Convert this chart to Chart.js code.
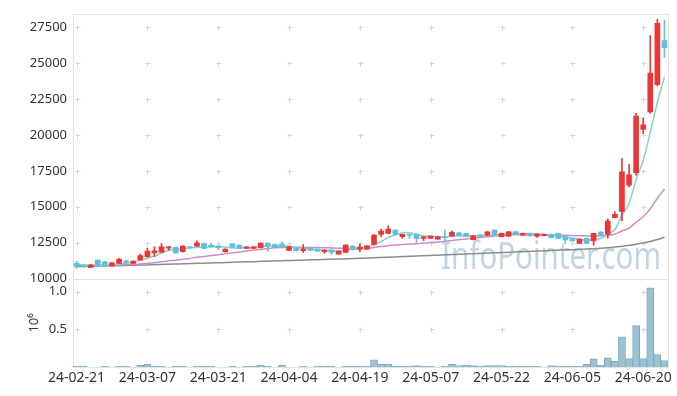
<!DOCTYPE html>
<html>
<head>
<meta charset="utf-8">
<script src="https://cdn.jsdelivr.net/npm/chart.js@4/dist/chart.umd.min.js"></script>
<style>
html, body { margin: 0; padding: 0; background: #fff; }
#wrap { width: 677px; height: 396px; }
</style>
</head>
<body>
<div id="wrap"><canvas id="chart" width="677" height="396"></canvas></div>
<script>
// trading days 24-02-21 .. 24-06-25
const dates = [
    "24-02-21","24-02-22","24-02-23","24-02-26","24-02-27","24-02-28","24-02-29",
    "24-03-04","24-03-05","24-03-06","24-03-07","24-03-08","24-03-11","24-03-12","24-03-13","24-03-14","24-03-15",
    "24-03-18","24-03-19","24-03-20","24-03-21","24-03-22","24-03-25","24-03-26","24-03-27","24-03-28","24-03-29",
    "24-04-01","24-04-02","24-04-03","24-04-04","24-04-05","24-04-08","24-04-09","24-04-11","24-04-12",
    "24-04-15","24-04-16","24-04-17","24-04-18","24-04-19","24-04-22","24-04-23","24-04-24","24-04-25","24-04-26",
    "24-04-29","24-04-30","24-05-02","24-05-03","24-05-07","24-05-08","24-05-09","24-05-10","24-05-13","24-05-14",
    "24-05-16","24-05-17","24-05-20","24-05-21","24-05-22","24-05-23","24-05-24","24-05-27","24-05-28","24-05-29",
    "24-05-30","24-05-31","24-06-03","24-06-04","24-06-05","24-06-07","24-06-10","24-06-11","24-06-12","24-06-13",
    "24-06-14","24-06-17","24-06-18","24-06-19","24-06-20","24-06-21","24-06-24","24-06-25"
]

const opens = [
    11065,10900,10790,11300,11180,10880,11065,11250,11065,11300,
    11530,11800,11850,12130,12180,11875,12220,12270,12450,12340,
    12290,11875,12430,12340,12110,12110,12150,12480,12380,12430,
    11970,12150,11945,12100,12060,11875,12010,11710,11830,12270,
    12060,12060,12380,13080,13150,13380,12920,13060,13080,12800,
    12800,12750,12900,12960,13190,13150,12720,13030,13030,13380,
    12920,12960,13260,13030,13150,12960,12990,13080,13150,12920,
    12800,12450,12800,12620,13240,13080,14250,14670,16510,17380,
    20380,21600,23490,26550
]
const highs = [
    11230,10950,11000,11320,11200,11130,11410,11270,11250,11710,
    12130,12220,12450,12250,12200,12300,12250,12640,12470,12480,
    12310,12080,12450,12360,12240,12240,12500,12500,12400,12570,
    12240,12170,12380,12120,12080,12010,12030,11940,12360,12290,
    12410,12310,13060,13450,13680,13400,13100,13080,13100,12940,
    12980,12940,13380,13330,13210,13170,13020,13060,13290,13400,
    13170,13290,13330,13170,13170,13120,13100,13100,13170,12940,
    12820,12780,12820,13170,13270,14160,14670,18350,17960,21500,
    21190,26900,28030,27980
]
const lows = [
    10720,10780,10760,10860,10860,10850,11040,11100,11040,11280,
    11500,11530,11830,11990,11780,11850,12130,12250,12090,12180,
    12010,11850,12180,12090,12090,12090,12130,11920,12160,12160,
    11950,11920,11830,11950,11900,11760,11710,11690,11810,12040,
    11875,12040,12330,12920,13130,13060,12800,12800,12450,12640,
    12780,12730,12570,12940,12970,12900,12700,12900,13010,13010,
    12900,12940,13080,13010,12920,12870,12970,12830,12780,12450,
    12600,12430,12430,12340,12980,12820,14230,14040,16390,17200,
    20080,21500,23400,25380
]
const closes = [
    10850,10830,10950,10880,10880,11110,11340,11130,11230,11600,
    11920,11945,12220,12220,11800,12270,12150,12500,12110,12200,
    12150,12060,12200,12110,12220,12220,12480,12290,12180,12180,
    12220,11945,12060,11970,11920,11990,11830,11920,12340,12060,
    12200,12290,13030,13310,13450,13080,13080,13030,12800,12920,
    12960,12920,12850,13220,12990,12920,12980,12920,13260,13030,
    13150,13260,13100,13150,13030,13100,13080,12850,12800,12690,
    12620,12750,12450,13150,13000,14000,14480,17430,17220,21300,
    20700,24300,27750,26070
]

// moving averages
const ma5 = [
    11000,10950,10930,10900,10880,10930,11030,11070,11140,11280,
    11440,11570,11780,11980,12020,12090,12130,12190,12170,12250,
    12220,12200,12140,12140,12150,12160,12250,12260,12280,12270,
    12270,12160,12120,12080,12020,11980,11950,11930,12000,12030,
    12070,12160,12380,12580,12860,13030,13190,13190,13090,12980,
    12960,12930,12890,12970,12990,12980,12990,13010,13010,13020,
    13070,13120,13160,13140,13140,13130,13090,13040,12970,12900,
    12810,12740,12660,12730,12790,13070,13420,14410,15230,16890,
    18230,20190,22250,24020
]
const ma20 = [
    10945,10940,10940,10935,10930,10940,10960,10970,10985,11015,
    11065,11115,11175,11240,11285,11350,11410,11485,11545,11605,
    11670,11735,11795,11860,11925,11980,12035,12095,12145,12170,
    12185,12185,12180,12165,12170,12160,12140,12115,12125,12120,
    12120,12130,12175,12235,12295,12340,12370,12405,12435,12475,
    12510,12560,12600,12660,12715,12760,12820,12870,12915,12965,
    13010,13060,13060,13055,13035,13035,13035,13025,13025,13015,
    12995,12990,12970,12965,12965,13020,13095,13320,13520,13930,
    14310,14860,15595,16240
]
const ma60 = [
    10850,10855,10865,10875,10890,10900,10905,10920,10935,10950,
    10960,10975,10995,11010,11020,11035,11055,11070,11080,11100,
    11110,11125,11145,11160,11170,11185,11205,11220,11230,11250,
    11265,11275,11290,11310,11320,11335,11355,11370,11380,11400,
    11420,11435,11460,11480,11500,11515,11540,11560,11575,11600,
    11620,11635,11660,11680,11695,11720,11740,11755,11780,11800,
    11815,11840,11860,11875,11900,11920,11935,11960,11980,11995,
    12020,12040,12060,12090,12120,12160,12200,12260,12320,12400,
    12490,12590,12720,12880
]

const volumes = [
    12000,12000,0,0,12000,0,12000,12000,0,22000,
    38000,12000,12000,0,12000,12000,0,12000,12000,12000,
    0,0,12000,0,12000,12000,22000,12000,0,24000,
    0,0,12000,0,12000,12000,12000,0,12000,12000,
    12000,12000,95000,38000,38000,12000,12000,12000,20000,12000,
    12000,0,12000,35000,20000,22000,20000,12000,18000,20000,
    19000,12000,12000,12000,12000,12000,0,20000,12000,12000,
    12000,12000,35000,108000,25000,122000,75000,400000,112000,550000,
    112000,1050000,165000,86000
]

const priceTicks = [10000, 12500, 15000, 17500, 20000, 22500, 25000, 27500]
const volumeTicks = [500000, 1000000]

const upColor = "#ee3535"
const downColor = "#5ec0dc"

const candleColors = closes.map((c, i) => c >= opens[i] ? upColor : downColor)
const wicks = lows.map((l, i) => [l, highs[i]])
const bodies = opens.map((o, i) => [o, closes[i]])

const decor = {
    id: "decor",
    beforeDatasetsDraw(chart) {
        const ctx = chart.ctx
        const x = chart.scales.x
        const yp = chart.scales.y
        const yv = chart.scales.yv

        ctx.save()

        // watermark
        ctx.font = '39px "Noto Sans"'
        ctx.fillStyle = "rgba(172,200,218,0.75)"
        ctx.textBaseline = "alphabetic"
        const w = ctx.measureText("InfoPointer.com").width
        ctx.save()
        ctx.translate(441, 269)
        ctx.scale(220 / w, 1)
        ctx.fillText("InfoPointer.com", 0, 0)
        ctx.restore()

        // panel frames
        ctx.strokeStyle = "#e3e3e3"
        ctx.lineWidth = 1
        ctx.strokeRect(Math.round(x.left) + 0.5, Math.round(yp.top) + 0.5,
            Math.round(x.right - x.left), Math.round(yp.bottom - yp.top))
        ctx.strokeRect(Math.round(x.left) + 0.5, Math.round(yv.top) + 0.5,
            Math.round(x.right - x.left), Math.round(yv.bottom - yv.top))

        // grid crosses
        ctx.strokeStyle = "#d6d6d6"
        for (let i = 0; i < dates.length; i += 10) {
            const px = Math.round(x.getPixelForValue(i)) + 0.5
            const marks = priceTicks.slice(1).map(v => yp.getPixelForValue(v))
                .concat(volumeTicks.map(v => yv.getPixelForValue(v)))
            marks.forEach(py => {
                py = Math.round(py) + 0.5
                ctx.beginPath()
                ctx.moveTo(px - 2, py)
                ctx.lineTo(px + 3, py)
                ctx.moveTo(px, py - 2)
                ctx.lineTo(px, py + 3)
                ctx.stroke()
            })
        }

        ctx.restore()
    }
}

const tickFont = { family: "Noto Sans", size: 13 }

new Chart(document.getElementById("chart"), {
    type: "bar",
    data: {
        labels: dates,
        datasets: [
            {
                label: "wick",
                data: wicks,
                yAxisID: "y",
                backgroundColor: candleColors,
                barThickness: 1,
                grouped: false,
                order: 1
            },
            {
                label: "body",
                data: bodies,
                yAxisID: "y",
                backgroundColor: candleColors,
                barThickness: 5,
                minBarLength: 1,
                grouped: false,
                order: 0
            },
            {
                type: "line",
                label: "MA5",
                data: ma5,
                yAxisID: "y",
                borderColor: "rgb(138,208,196)",
                borderWidth: 1.5,
                pointRadius: 0,
                tension: 0.3,
                order: 2
            },
            {
                type: "line",
                label: "MA20",
                data: ma20,
                yAxisID: "y",
                borderColor: "rgb(206,140,200)",
                borderWidth: 1.5,
                pointRadius: 0,
                tension: 0.3,
                order: 3
            },
            {
                type: "line",
                label: "MA60",
                data: ma60,
                yAxisID: "y",
                borderColor: "rgb(140,140,140)",
                borderWidth: 1.5,
                pointRadius: 0,
                tension: 0.3,
                order: 4
            },
            {
                label: "volume",
                data: volumes,
                yAxisID: "yv",
                backgroundColor: "#9cc2d2",
                borderColor: "#7eaabe",
                borderWidth: 1,
                categoryPercentage: 1,
                barPercentage: 1,
                grouped: false,
                order: 5
            }
        ]
    },
    options: {
        responsive: false,
        animation: false,
        layout: {
            padding: { top: 10, right: 9, left: 0, bottom: 0 }
        },
        plugins: {
            legend: { display: false },
            tooltip: { enabled: false }
        },
        scales: {
            x: {
                type: "category",
                offset: true,
                grid: { display: false, drawTicks: false },
                border: { display: false },
                ticks: {
                    autoSkip: false,
                    maxRotation: 0,
                    padding: 3,
                    color: "#333",
                    font: { family: "Noto Sans", size: 14 },
                    callback: (v, i) => i % 10 === 0 ? dates[i] : ""
                },
                afterFit: s => { s.height = 29 }
            },
            // declared first so it lands below the price panel
            yv: {
                position: "left",
                stack: "panels",
                stackWeight: 1,
                min: 0,
                max: 1170000,
                grid: { display: false, drawTicks: false },
                border: { display: false },
                title: {
                    display: true,
                    text: "10⁶",
                    color: "#333",
                    font: tickFont,
                    padding: { top: 26, bottom: 0 }
                },
                ticks: {
                    padding: 6,
                    color: "#333",
                    font: tickFont,
                    callback: v => (v / 1000000).toFixed(1)
                },
                afterBuildTicks: s => { s.ticks = volumeTicks.map(v => ({ value: v })) },
                afterFit: s => { s.width = 73 }
            },
            y: {
                position: "left",
                stack: "panels",
                stackWeight: 3,
                min: 10000,
                max: 28420,
                grid: { display: false, drawTicks: false },
                border: { display: false },
                ticks: {
                    padding: 6,
                    color: "#333",
                    font: tickFont,
                    callback: v => String(v)
                },
                afterBuildTicks: s => { s.ticks = priceTicks.map(v => ({ value: v })) },
                afterFit: s => { s.width = 73 }
            }
        }
    },
    plugins: [decor]
})
</script>
</body>
</html>
